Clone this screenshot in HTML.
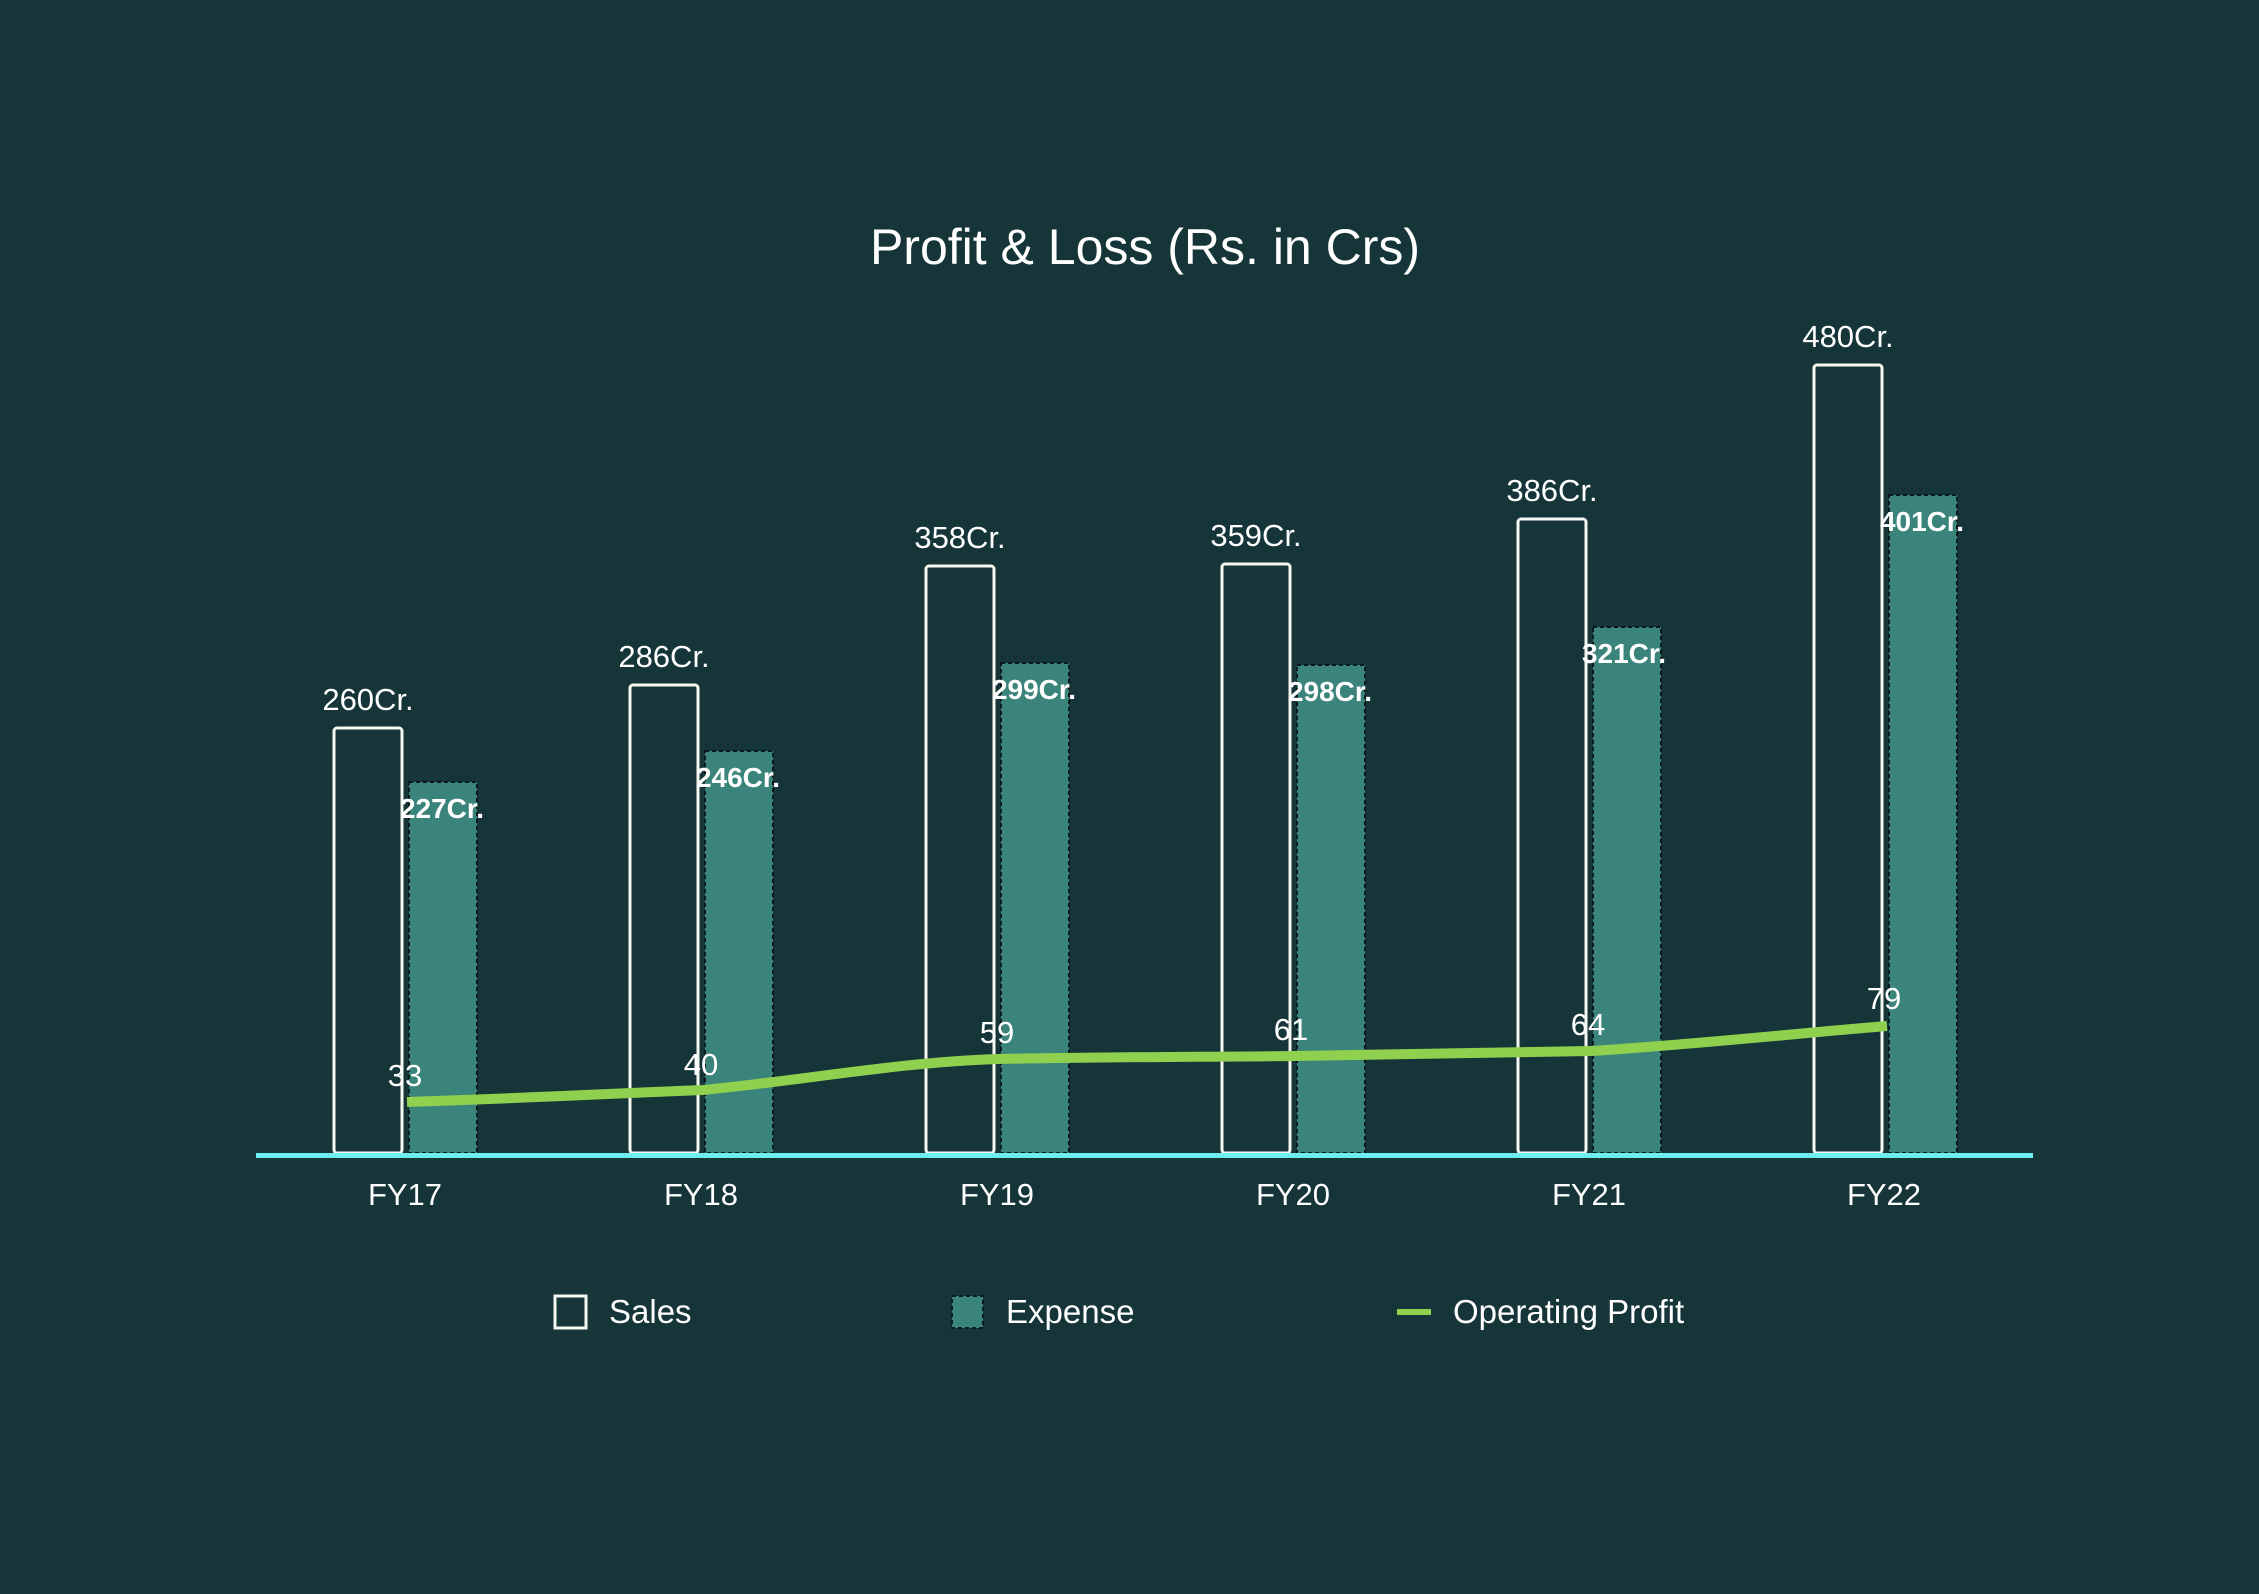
<!DOCTYPE html>
<html><head><meta charset="utf-8"><style>
html,body{margin:0;padding:0;background:#163538;}
svg{display:block;}
text{font-family:"Liberation Sans",sans-serif;fill:#fff;}
</style></head><body>
<svg width="2259" height="1594" viewBox="0 0 2259 1594" xmlns="http://www.w3.org/2000/svg">
<rect width="2259" height="1594" fill="#163538"/>
<text x="1145" y="264" font-size="50" text-anchor="middle">Profit &amp; Loss (Rs. in Crs)</text>
<g fill="none" stroke="#f4f8f0" stroke-width="3">
<rect x="334" y="728" width="68" height="425" rx="3"/>
<rect x="630" y="685" width="68" height="468" rx="3"/>
<rect x="926" y="566" width="68" height="587" rx="3"/>
<rect x="1222" y="564" width="68" height="589" rx="3"/>
<rect x="1518" y="519" width="68" height="634" rx="3"/>
<rect x="1814" y="365" width="68" height="788" rx="3"/>
</g>
<g fill="#3b847c" stroke="#0a1a1a" stroke-width="2" stroke-dasharray="4 3">
<rect x="409" y="782" width="68" height="371"/>
<rect x="705" y="751" width="68" height="402"/>
<rect x="1001" y="663" width="68" height="490"/>
<rect x="1297" y="665" width="68" height="488"/>
<rect x="1593" y="627" width="68" height="526"/>
<rect x="1889" y="495" width="68" height="658"/>
</g>
<rect x="256" y="1153" width="1777" height="5" fill="#6ff0f0"/>
<path d="M407,1102 C555,1097 600,1094 703,1090 C806,1080 900,1062 999,1059 C1100,1057 1200,1057 1295,1056 C1400,1054 1500,1053 1591,1051 C1700,1044 1790,1034 1887,1026" fill="none" stroke="#8fd14f" stroke-width="10"/>
<g font-size="31" text-anchor="middle">
<text x="368" y="710">260Cr.</text>
<text x="664" y="667">286Cr.</text>
<text x="960" y="548">358Cr.</text>
<text x="1256" y="546">359Cr.</text>
<text x="1552" y="501">386Cr.</text>
<text x="1848" y="347">480Cr.</text>
</g>
<g font-size="28" font-weight="bold" text-anchor="middle">
<text x="442" y="818">227Cr.</text>
<text x="738" y="787">246Cr.</text>
<text x="1034" y="699">299Cr.</text>
<text x="1330" y="701">298Cr.</text>
<text x="1624" y="663">321Cr.</text>
<text x="1922" y="531">401Cr.</text>
</g>
<g font-size="31" text-anchor="middle">
<text x="405" y="1086">33</text>
<text x="701" y="1075">40</text>
<text x="997" y="1043">59</text>
<text x="1291" y="1040">61</text>
<text x="1588" y="1035">64</text>
<text x="1884" y="1009">79</text>
</g>
<g font-size="31" text-anchor="middle">
<text x="405" y="1205">FY17</text>
<text x="701" y="1205">FY18</text>
<text x="997" y="1205">FY19</text>
<text x="1293" y="1205">FY20</text>
<text x="1589" y="1205">FY21</text>
<text x="1884" y="1205">FY22</text>
</g>
<rect x="555" y="1296" width="31" height="32" fill="none" stroke="#f4f8f0" stroke-width="3"/>
<text x="609" y="1323" font-size="33">Sales</text>
<rect x="952" y="1296" width="31" height="32" fill="#3b847c" stroke="#0a1a1a" stroke-width="2" stroke-dasharray="4 3"/>
<text x="1006" y="1323" font-size="33">Expense</text>
<rect x="1397" y="1309" width="34" height="6" fill="#8fd14f"/>
<text x="1453" y="1323" font-size="33">Operating Profit</text>
</svg>
</body></html>
